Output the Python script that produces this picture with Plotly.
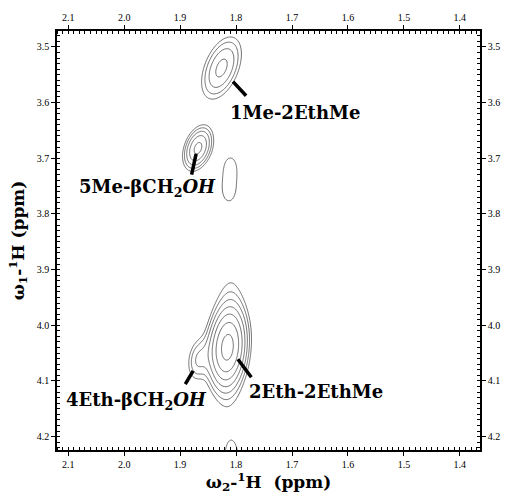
import numpy as np
import plotly.graph_objects as go

# ---- data: cross-peak parameters (ppm) ----
peak_w2 = [1.826, 1.868, 1.810, 1.813, 1.816, 1.812, 1.868, 1.808]      # omega2 centre
peak_w1 = [3.538, 3.682, 3.714, 3.762, 4.040, 4.030, 4.062, 4.240]      # omega1 centre
peak_sw2 = [0.022, 0.0150, 0.016, 0.015, 0.019, 0.019, 0.013, 0.012]   # width along omega2
peak_sw1 = [0.0345, 0.0225, 0.026, 0.024, 0.039, 0.085, 0.025, 0.030]  # width along omega1
peak_amp = [3.7, 5.5, 1.12, 1.10, 11.0, 1.9, 2.2, 1.5]
peak_rho = [0.45, 0.35, 0.0, 0.0, 0.15, 0.1, 0.2, 0.0]

x_ticks = [2.1, 2.0, 1.9, 1.8, 1.7, 1.6, 1.5, 1.4]
y_ticks = [3.5, 3.6, 3.7, 3.8, 3.9, 4.0, 4.1, 4.2]
x_range = [2.12, 1.364]
y_range = [4.224, 3.4715]

labels = ["1Me-2EthMe", "5Me-βCH<sub>2</sub><i>OH</i>",
          "4Eth-βCH<sub>2</sub><i>OH</i>", "2Eth-2EthMe"]
label_x = [1.814, 1.833, 1.8485, 1.781]
label_y = [3.617, 3.7532, 4.1365, 4.119]
label_anchor = ["left", "right", "right", "left"]
pointer_head = [(1.8055, 3.5625), (1.8714, 3.692), (1.8767, 4.082), (1.7967, 4.061)]
pointer_tail = [(1.7795, 3.5905), (1.880, 3.7322), (1.8923, 4.1084), (1.7707, 4.096)]

# ---- build the spectrum surface from the peak list ----
xs = np.linspace(1.36, 2.13, 420)
ys = np.linspace(3.46, 4.26, 440)
X, Y = np.meshgrid(xs, ys)
Z = np.zeros_like(X)
for x0, y0, sx, sy, a, r in zip(peak_w2, peak_w1, peak_sw2, peak_sw1, peak_amp, peak_rho):
    dx = (X - x0) / sx
    dy = (Y - y0) / sy
    q = (dx**2 - 2 * r * dx * dy + dy**2) / (2 * (1 - r**2))
    Z += a * np.exp(-q)
L = np.log(Z + 1e-12)

serif = "Liberation Serif"
fig = go.Figure()
fig.add_trace(go.Contour(
    x=xs, y=ys, z=L,
    contours=dict(start=0.0, end=3.0, size=0.4, coloring="none"),
    line=dict(color="#333", width=0.7),
    showscale=False, hoverinfo="skip"))
fig.add_trace(go.Scatter(x=[2.0], y=[3.8], xaxis="x2", yaxis="y2", mode="markers",
                         marker=dict(opacity=0), showlegend=False, hoverinfo="skip"))

axis_common = dict(
    showgrid=False, zeroline=False, showline=True, linecolor="black", linewidth=1.5,
    ticks="outside", ticklen=4, tickwidth=1, tickcolor="black",
    tickfont=dict(family=serif, size=10, color="black"),
    minor=dict(dtick=0.01, ticks="inside", ticklen=3, tickwidth=1, tickcolor="black"),
)
fig.update_layout(
    width=512, height=498,
    margin=dict(l=57, r=19, t=27, b=41),
    paper_bgcolor="white", plot_bgcolor="white",
    showlegend=False,
    xaxis=dict(range=x_range, tickvals=x_ticks, ticktext=[f"{v:.1f}" for v in x_ticks],
               title=dict(text="ω<sub>2</sub>-<sup>1</sup>H  (ppm)", standoff=4,
                          font=dict(family="DejaVu Serif", size=17, color="black", weight="bold")),
               **axis_common),
    yaxis=dict(range=y_range, tickvals=y_ticks, ticktext=[f"{v:.1f}" for v in y_ticks],
               title=dict(text="ω<sub>1</sub>-<sup>1</sup>H (ppm)", standoff=8,
                          font=dict(family="DejaVu Serif", size=17, color="black", weight="bold")),
               **axis_common),
    xaxis2=dict(range=x_range, overlaying="x", side="top", anchor="y2",
                tickvals=x_ticks, ticktext=[f"{v:.1f}" for v in x_ticks], **axis_common),
    yaxis2=dict(range=y_range, overlaying="y", side="right", anchor="x2",
                tickvals=y_ticks, ticktext=[f"{v:.1f}" for v in y_ticks], **axis_common),
)

for t, lx, ly, anc in zip(labels, label_x, label_y, label_anchor):
    fig.add_annotation(x=lx, y=ly, xref="x", yref="y", text=t, showarrow=False,
                       xanchor=anc, yanchor="middle",
                       font=dict(family="DejaVu Serif", size=18, color="black", weight="bold"))
for (hx, hy), (tx, ty) in zip(pointer_head, pointer_tail):
    fig.add_annotation(x=hx, y=hy, ax=tx, ay=ty, xref="x", yref="y", axref="x", ayref="y",
                       text="", showarrow=True, arrowhead=0, arrowwidth=3.5, arrowcolor="black")

fig.write_html("out.html")
